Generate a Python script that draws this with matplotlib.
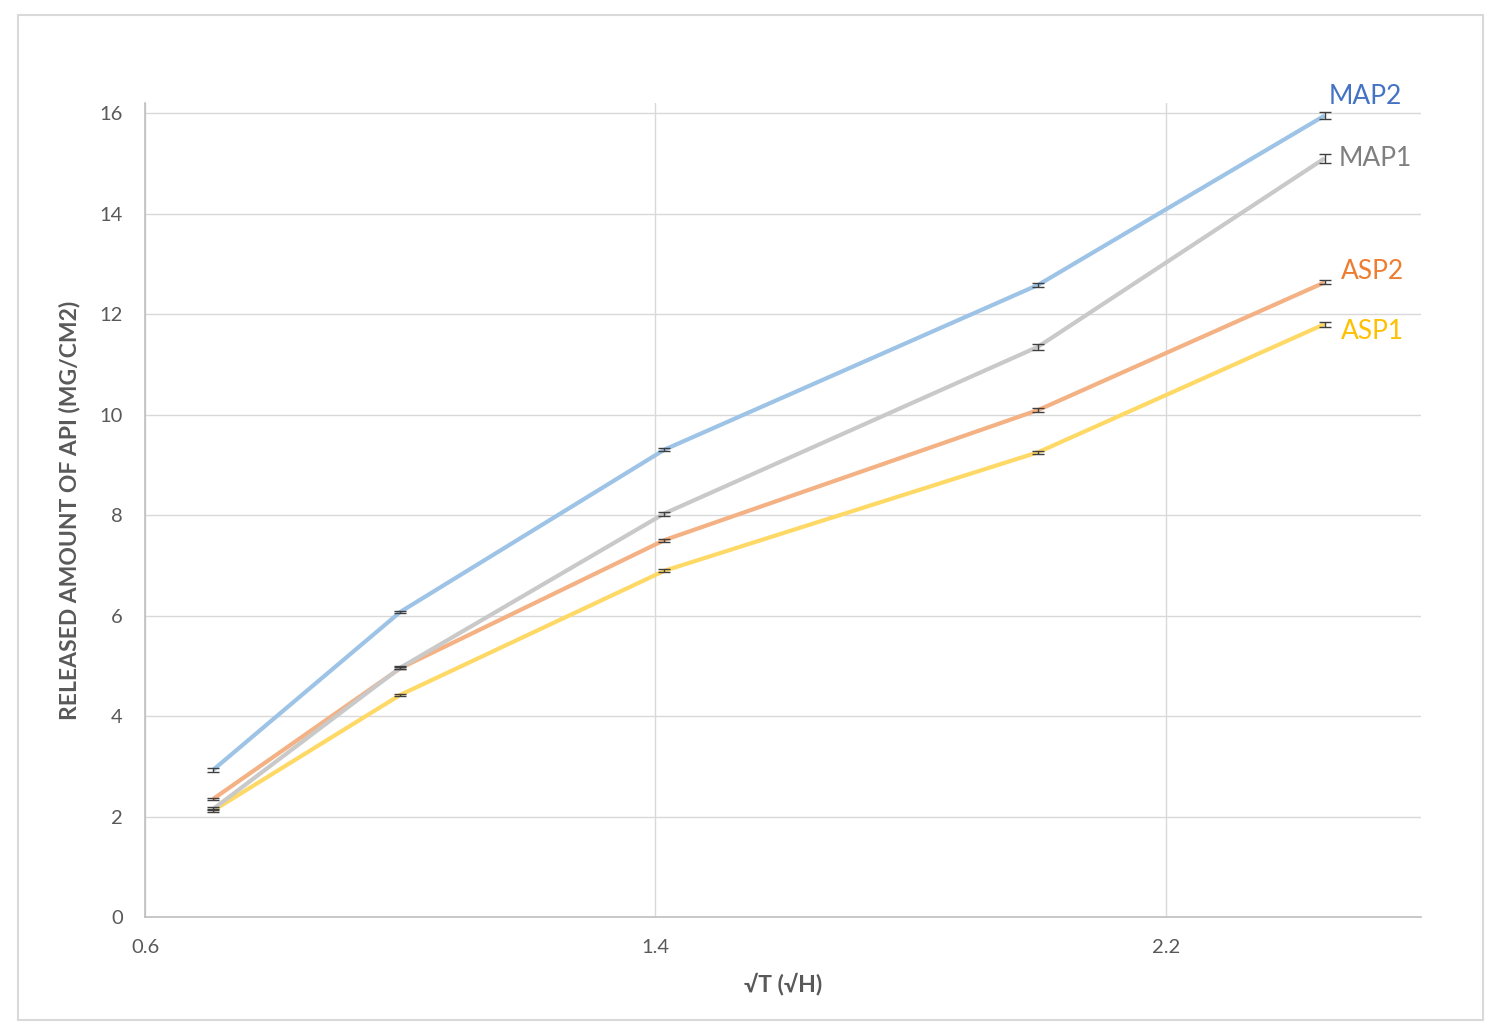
import numpy as np
import matplotlib.pyplot as plt
from matplotlib.patches import Rectangle

# ========== DATA ==========
sqrt_t = [0.707, 1.0, 1.414, 2.0, 2.449]

map2 = [2.93, 6.07, 9.30, 12.58, 15.95]
map1 = [2.15, 4.96, 8.03, 11.35, 15.10]
asp2 = [2.35, 4.95, 7.50, 10.09, 12.63]
asp1 = [2.12, 4.42, 6.89, 9.25, 11.80]

map2_err = [0.04, 0.02, 0.03, 0.04, 0.07]
map1_err = [0.03, 0.03, 0.04, 0.06, 0.09]
asp2_err = [0.02, 0.02, 0.03, 0.04, 0.04]
asp1_err = [0.03, 0.02, 0.03, 0.03, 0.05]

series = [
    ("ASP1", asp1, asp1_err, '#FFD966', '#FFC000'),
    ("ASP2", asp2, asp2_err, '#F4B183', '#ED7D31'),
    ("MAP1", map1, map1_err, '#C9C9C9', '#7F7F7F'),
    ("MAP2", map2, map2_err, '#9DC3E6', '#4472C4'),
]

# label offsets (points) next to the last point
label_offsets = {"MAP2": (3, 14), "MAP1": (10, 0), "ASP2": (12, 8), "ASP1": (12, -5)}

plt.rcParams['font.family'] = ['Lato', 'DejaVu Sans']
TEXT = '#595959'

fig = plt.figure(figsize=(15.01, 10.35), dpi=100)
fig.patches.append(Rectangle((18 / 1501, 1 - 1020 / 1035), 1465 / 1501, 1005 / 1035,
                             transform=fig.transFigure, fill=False,
                             edgecolor='#D9D9D9', lw=1.5))

ax = fig.add_axes([145 / 1501, 1 - 917 / 1035, 1276 / 1501, 814 / 1035])

for name, vals, err, lc, tc in series:
    ax.plot(sqrt_t, vals, color=lc, lw=3, zorder=2, solid_capstyle='butt')
    ax.errorbar(sqrt_t, vals, yerr=err, fmt='none', ecolor='#404040',
                elinewidth=1, capsize=4, capthick=1, zorder=3)
    dx, dy = label_offsets[name]
    ax.annotate(name, xy=(sqrt_t[-1], vals[-1]), xytext=(dx, dy),
                textcoords='offset points', color=tc, fontsize=19,
                ha='left', va='center')

ax.set_xlim(0.6, 2.6)
ax.set_ylim(0, 16.2)
ax.set_xticks([0.6, 1.4, 2.2])
ax.set_xticklabels(['0.6', '1.4', '2.2'])
ax.set_yticks(np.arange(0, 17, 2))

ax.grid(True, color='#D9D9D9', lw=1)
ax.set_axisbelow(True)
for s in ['top', 'right']:
    ax.spines[s].set_visible(False)
for s in ['left', 'bottom']:
    ax.spines[s].set_color('#BFBFBF')
    ax.spines[s].set_linewidth(1.2)

ax.tick_params(length=0, labelsize=14.5, labelcolor=TEXT)
ax.tick_params(axis='x', pad=16)
ax.tick_params(axis='y', pad=16)

ax.set_xlabel("√T (√H)", fontsize=16.5, fontweight='bold', color=TEXT, labelpad=12)
ax.set_ylabel("RELEASED AMOUNT OF API (MG/CM2)", fontsize=16.5, fontweight='bold',
              color=TEXT, labelpad=14)

fig.savefig("out.png", dpi=100)
